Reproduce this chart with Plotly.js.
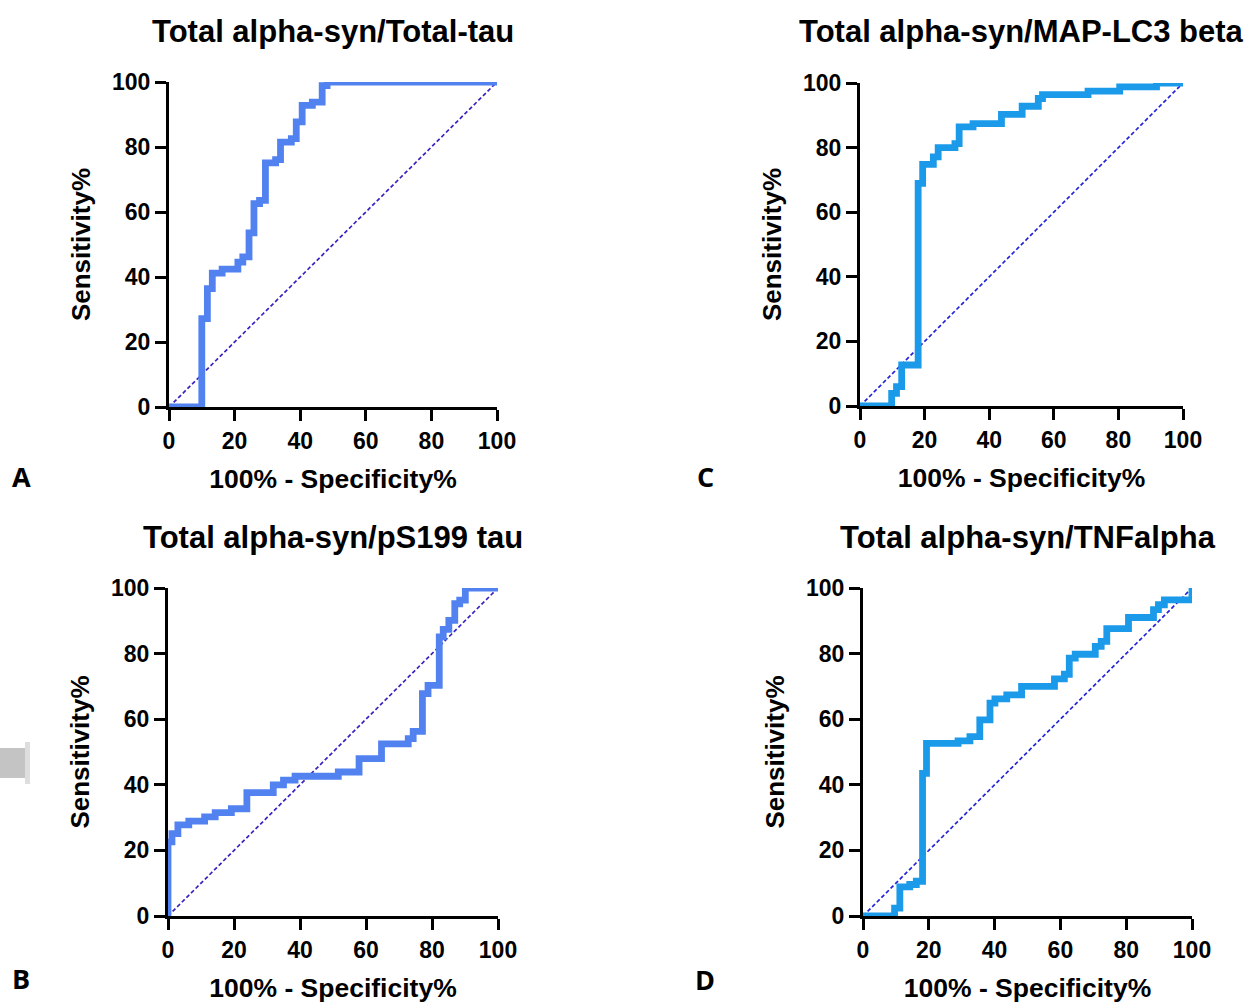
<!DOCTYPE html>
<html>
<head>
<meta charset="utf-8">
<script src="https://cdn.plot.ly/plotly-3.0.1.min.js"></script>
<style>html,body{margin:0;padding:0;background:#fff;}#chart{width:1245px;height:1007px;}</style>
</head>
<body>
<div id="chart"></div>
<script>
// ---- Data (x = 100% - Specificity%, y = Sensitivity%) ----
const titles = ["Total alpha-syn/Total-tau", "Total alpha-syn/MAP-LC3 beta", "Total alpha-syn/pS199 tau", "Total alpha-syn/TNFalpha"];
const panelLetters = ["A", "C", "B", "D"];
const tickVals = [0, 20, 40, 60, 80, 100];
const diagX = [0, 100];
const diagY = [0, 100];

const aX = [0,10,11.7,13.2,16.2,21,22.5,24.4,25.9,27.6,29.4,32.5,34,37.3,38.8,40.6,43.7,46.7,48.2,100];
const aY = [0,27.2,36.4,41.2,42.4,44.6,46.2,53.6,62.6,63.6,75.1,76.1,81.5,82.6,87.7,92.8,93.8,98.9,100,100];

const cX = [0,9.8,11.3,12.9,18,19.4,22.7,24.2,29.4,30.7,35,43.8,50.2,55.2,56.5,70.6,80.4,91.8,100];
const cY = [0,3.9,6,12.7,68.9,74.8,77.1,80,81.2,86.4,87.4,90.3,92.8,95.2,96.4,97.5,98.8,100,100];

const bX = [0,0,1.2,3,6.3,11.1,14.3,19.2,23.9,31.9,35,38.5,51.6,57.9,64.7,72.8,74.3,77.1,78.8,82.2,83.4,85.1,86.9,88.4,90.1,100];
const bY = [0,22.6,25.1,27.8,28.9,30.2,31.5,32.7,37.6,40,41.4,42.6,43.9,48,52.5,54.1,56.3,67.8,70.3,85.1,87.4,90.1,95.2,96.3,100,100];

const dX = [0,9.6,11.2,14.2,16.2,18.1,19.3,28.9,32.5,35.5,38.6,40.1,43.7,48.2,58.2,61.2,62.7,64.5,70.6,72.4,74.1,80.7,88.3,89.8,91.6,100,100];
const dY = [0,2.4,8.9,9.6,10.6,43.5,52.6,53.4,54.7,59.8,64.9,66.2,67.4,70,72.3,73.7,78.6,79.8,82.2,83.7,87.6,91,93.4,94.9,96.4,96.4,100];

// ---- Layout helpers ----
const W = 1245, H = 1007;
const px = v => v / W;
const py = v => 1 - v / H;
const FONT = "Liberation Sans, Arial, sans-serif";

// panel boxes in pixels: [left, right, top, bottom]
const boxes = [
  [169, 497, 82, 407],   // A
  [860, 1183, 83, 406],  // C
  [168, 498, 588, 916],  // B
  [863, 1192, 588, 916]  // D
];
const series = [[aX, aY], [cX, cY], [bX, bY], [dX, dY]];
const curveColors = ["#5282F0", "#1B9AEA", "#5282F0", "#1B9AEA"];
const diagColors = ["#3A22C0", "#2424D8", "#3A22C0", "#2424D8"];

const traces = [];
const layout = {
  width: W, height: H,
  margin: {l: 0, r: 0, t: 0, b: 0},
  paper_bgcolor: "#ffffff",
  plot_bgcolor: "#ffffff",
  showlegend: false,
  font: {family: FONT, color: "#000", size: 22},
  annotations: [],
  shapes: []
};

boxes.forEach((b, i) => {
  const n = i === 0 ? "" : String(i + 1);
  const xa = "x" + n, ya = "y" + n;
  traces.push({
    x: diagX, y: diagY, xaxis: xa, yaxis: ya, type: "scatter", mode: "lines",
    line: {color: diagColors[i], width: 1.7, dash: "4px,2.5px"},
    hoverinfo: "skip", cliponaxis: false
  });
  traces.push({
    x: series[i][0], y: series[i][1], xaxis: xa, yaxis: ya, type: "scatter", mode: "lines",
    line: {color: curveColors[i], width: 6.8, shape: "hv"},
    cliponaxis: false
  });
  const common = {
    range: [0, 100], tickmode: "array", tickvals: tickVals,
    showgrid: false, zeroline: false, showline: true,
    linecolor: "#000", linewidth: 3, ticks: "outside", ticklen: 11, tickwidth: 3, tickcolor: "#000",
    tickfont: {family: FONT, size: 23, color: "#000", weight: 700},
    automargin: false, fixedrange: true
  };
  layout["xaxis" + n] = Object.assign({}, common, {
    domain: [px(b[0]), px(b[1])], anchor: ya,
    title: {text: "100% - Specificity%", font: {family: FONT, size: 26.5, color: "#000", weight: 700}, standoff: 17}
  });
  layout["yaxis" + n] = Object.assign({}, common, {
    domain: [py(b[3]), py(b[2])], anchor: xa,
    title: {text: "Sensitivity%", font: {family: FONT, size: 26, color: "#000", weight: 700}, standoff: 14}
  });
  // panel title
  layout.annotations.push({
    text: titles[i], xref: "paper", yref: "paper",
    x: px((b[0] + b[1]) / 2), y: py(i < 2 ? 31 : 537),
    xanchor: "center", yanchor: "middle", showarrow: false,
    font: {family: FONT, size: 31, color: "#000", weight: 700}
  });
});

// panel letters (y = bottom of the text box, in pixels)
const letterPos = [[22, 497], [705, 497], [21, 999], [705, 1000]];
letterPos.forEach((p, i) => {
  layout.annotations.push({
    text: panelLetters[i], xref: "paper", yref: "paper",
    x: px(p[0]), y: py(p[1]), xanchor: "center", yanchor: "bottom", showarrow: false,
    font: {family: "Open Sans, Noto Sans, sans-serif", size: 27, color: "#000", weight: 700}
  });
});

// grey fragment at the left edge of the picture
layout.shapes.push({type: "rect", xref: "paper", yref: "paper", x0: px(0), x1: px(27), y0: py(778), y1: py(748), fillcolor: "#c4c4c4", line: {width: 0}, layer: "below"});
layout.shapes.push({type: "rect", xref: "paper", yref: "paper", x0: px(25), x1: px(30), y0: py(784), y1: py(742), fillcolor: "#dedede", line: {width: 0}, layer: "below"});

Plotly.newPlot("chart", traces, layout, {displayModeBar: false, staticPlot: true});
</script>
</body>
</html>
